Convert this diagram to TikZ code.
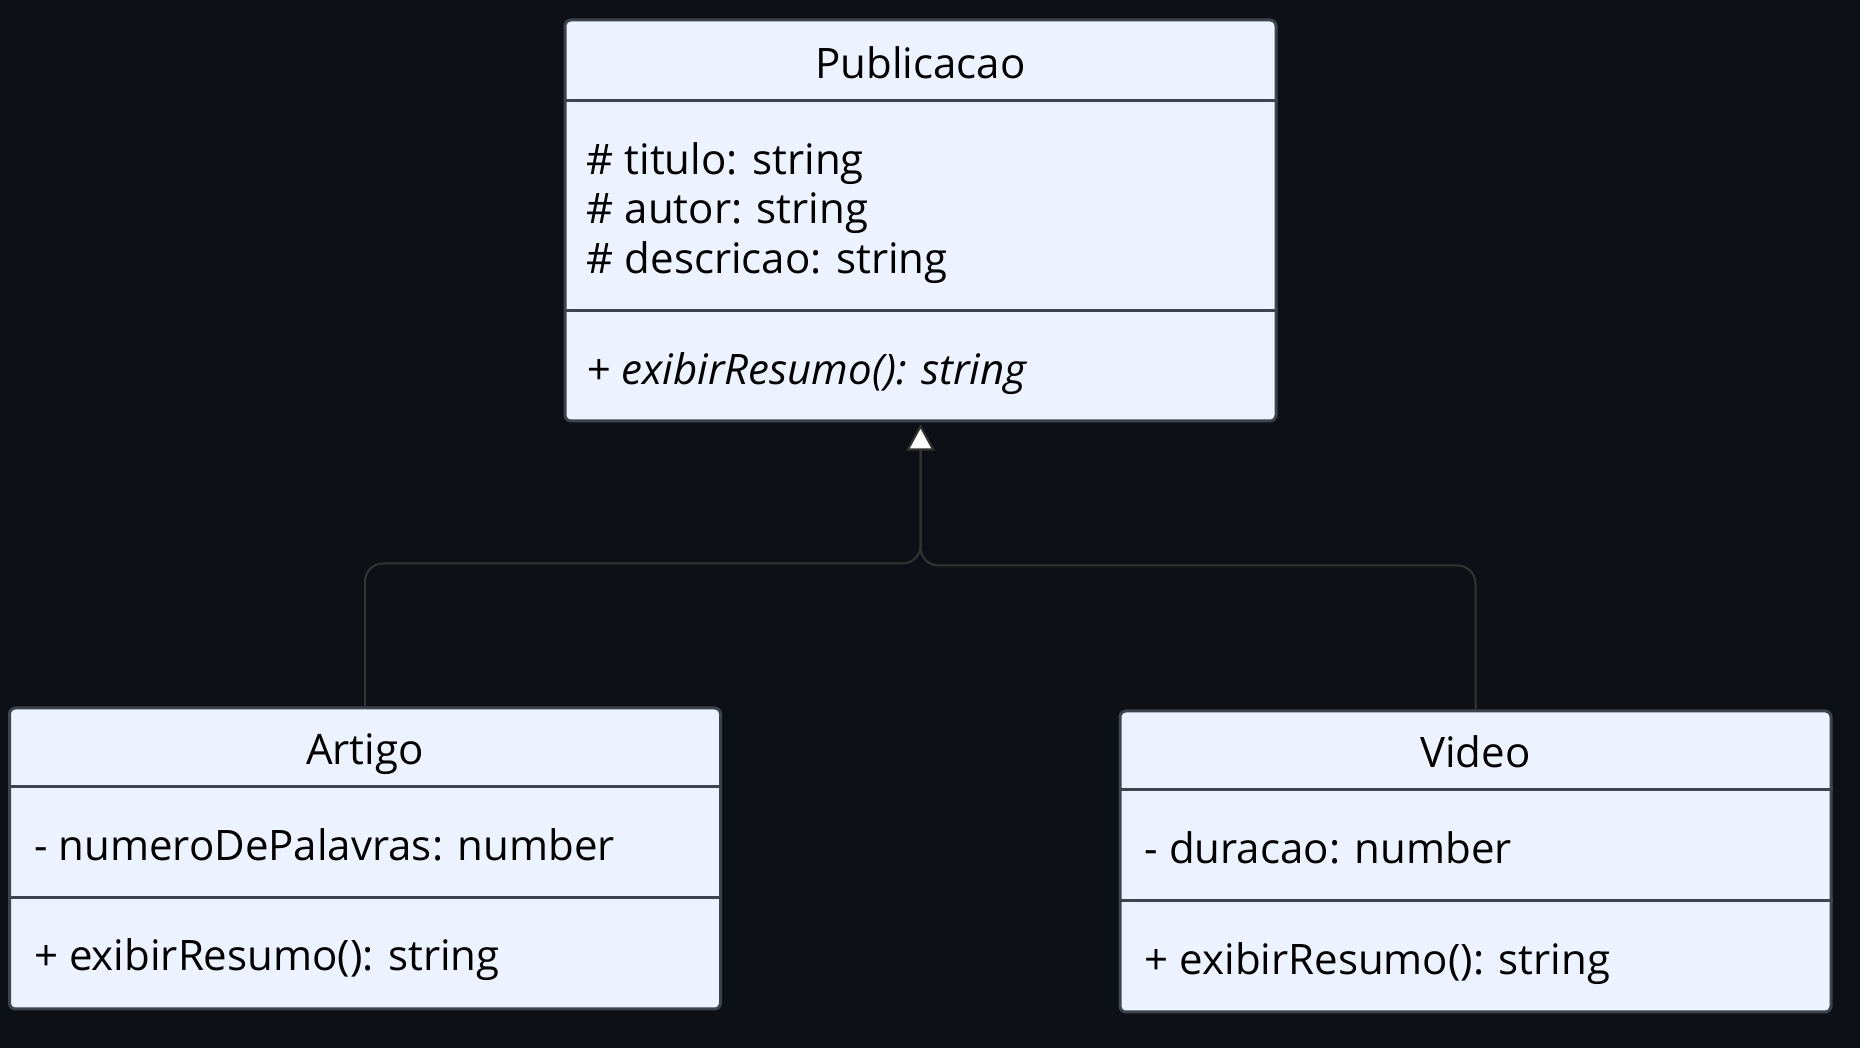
\documentclass[tikz,border=0pt]{standalone}
\usepackage{fontspec}
\setmainfont{Open Sans}
\usetikzlibrary{arrows.meta, calc, positioning}
\definecolor{bgdark}{HTML}{0D1117}
\definecolor{boxfill}{HTML}{ECF3FF}
\definecolor{boxedge}{HTML}{3D444D}
\definecolor{edgegray}{HTML}{333333}
\newcommand\classrule[2]{% node name, drop below the top edge
  \draw[divline] ($(#1.north west)+(0,-#2)$) -- ($(#1.north east)+(0,-#2)$);
}

\begin{document}
\begin{tikzpicture}[x=1pt, y=1pt,
    classbox/.style={draw=boxedge, fill=boxfill, line width=3pt, rounded corners=6pt, minimum width=711pt, inner sep=0pt},
    divline/.style={draw=boxedge, line width=3pt},
    classname/.style={font=\fontsize{42}{50}\selectfont, text=black, inner sep=0pt},
    member/.style={font=\fontsize{42}{50}\selectfont, text=black, anchor=west, inner sep=0pt},
    inherit/.style={draw=edgegray, line width=2pt, rounded corners=18pt, -{Triangle[length=26pt, width=28pt, fill=white]}, shorten >=2pt}]
  \fill[bgdark] (0,0) rectangle (1860,1048);
  \useasboundingbox (0,0) rectangle (1860,1048);

  % class boxes
  \node[classbox, minimum height=401pt] (pub) at (920.5,827.5) {};
  \node[classbox, minimum height=301pt] (art) at (365,189.5) {};
  \node[classbox, minimum height=301pt] (vid) at (1475.5,186.5) {};

  % compartments
  \classrule{pub}{82}
  \classrule{pub}{292}
  \foreach \cls in {art,vid}{
    \classrule{\cls}{80}
    \classrule{\cls}{191}
  }

  % Publicacao
  \node[classname] (pubname) at ($(pub.north)+(0,-44)$) {Publicacao};
  \node[member] (pubtit) at ($(pub.north west)+(23,-145)$) {\# titulo: string};
  \node[member] (pubaut) at ($(pub.north west)+(23,-195)$) {\# autor: string};
  \node[member] (pubdes) at ($(pub.north west)+(23,-244)$) {\# descricao: string};
  \node[member] (pubres) at ($(pub.north west)+(23,-355)$) {\itshape + exibirResumo(): string};

  % Artigo
  \node[classname] (artname) at ($(art.north)+(0,-48)$) {Artigo};
  \node[member] (artnum) at ($(art.north west)+(26,-138)$) {- numeroDePalavras: number};
  \node[member] (artres) at ($(art.north west)+(26,-253)$) {+ exibirResumo(): string};

  % Video
  \node[classname] (vidname) at ($(vid.north)+(0,-42)$) {Video};
  \node[member] (viddur) at ($(vid.north west)+(26,-138)$) {- duracao: number};
  \node[member] (vidres) at ($(vid.north west)+(26,-254)$) {+ exibirResumo(): string};

  % inheritance
  \draw[inherit] (art.north) -- ++(0,143) -| (pub.south);
  \draw[inherit] (vid.north) -- ++(0,144) -| (pub.south);
\end{tikzpicture}
\end{document}
